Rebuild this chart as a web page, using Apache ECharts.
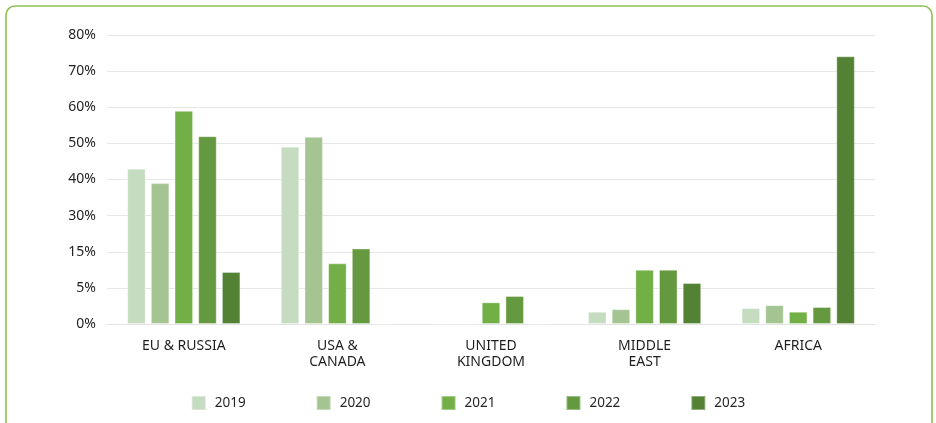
<!DOCTYPE html>
<html>
<head>
<meta charset="utf-8">
<script src="https://cdn.jsdelivr.net/npm/echarts@6/dist/echarts.min.js"></script>
<style>
  html, body { margin: 0; padding: 0; background: #fff; }
  #chart { width: 936px; height: 423px; }
</style>
</head>
<body>
<div id="chart"></div>
<script>
// Regions along the x axis
const regions = ['EU & RUSSIA', 'USA &\nCANADA', 'UNITED\nKINGDOM', 'MIDDLE\nEAST', 'AFRICA'];

// Share per region, one array per year (in axis units)
const y2019 = [43, 49.1, 0, 3.4, 4.4];
const y2020 = [39, 51.8, 0, 4.1, 5.2];
const y2021 = [59, 16.8, 6.0, 15.0, 3.4];
const y2022 = [52, 20.9, 7.75, 15.0, 4.7];
const y2023 = [14.4, 0, 0, 11.35, 74.1];

const years = ['2019', '2020', '2021', '2022', '2023'];

// Tick labels printed on the value axis, bottom to top
const yTickLabels = ['0%', '5%', '15%', '30%', '40%', '50%', '60%', '70%', '80%'];

const palette = ['#C5DCC0', '#A4C591', '#72AF47', '#64993F', '#548235'];
const seriesValues = [y2019, y2020, y2021, y2022, y2023];

const font = "'Noto Sans', 'Open Sans', sans-serif";

const chart = echarts.init(document.getElementById('chart'), null, { renderer: 'canvas' });

chart.setOption({
  animation: false,
  color: palette,
  textStyle: { fontFamily: font },
  graphic: [{
    type: 'rect',
    shape: { x: 6, y: 6, width: 926, height: 440, r: 9 },
    style: { fill: 'none', stroke: '#8DC152', lineWidth: 1.6 },
    silent: true
  }],
  grid: { left: 107, right: 61, top: 35, bottom: 99 },
  legend: {
    bottom: 7,
    left: 'center',
    itemWidth: 14,
    itemHeight: 14,
    itemGap: 70,
    icon: 'rect',
    textStyle: { fontSize: 13.5, color: '#262626', fontFamily: font, padding: [0, 0, 0, 4] },
    data: years
  },
  xAxis: {
    type: 'category',
    data: regions,
    axisTick: { show: false },
    axisLine: { show: true, lineStyle: { color: '#e3e3e3', width: 1 } },
    axisLabel: {
      color: '#1f1f1f',
      fontSize: 14,
      fontFamily: font,
      margin: 14,
      lineHeight: 16,
      align: 'center'
    }
  },
  yAxis: {
    type: 'value',
    min: 0,
    max: 80,
    interval: 10,
    axisLine: { show: false },
    axisTick: { show: false },
    splitLine: { lineStyle: { color: '#e6e6e6', width: 1.2 } },
    axisLabel: {
      color: '#1f1f1f',
      fontSize: 14,
      fontFamily: font,
      margin: 11,
      formatter: function (v) { return yTickLabels[Math.round(v / 10)]; }
    }
  },
  series: years.map(function (yr, i) {
    return {
      name: yr,
      type: 'bar',
      data: seriesValues[i],
      barWidth: 18.5,
      barGap: '28%',
      itemStyle: { color: palette[i], borderColor: 'rgba(255,255,255,0.35)', borderWidth: 1 }
    };
  })
});
</script>
</body>
</html>
